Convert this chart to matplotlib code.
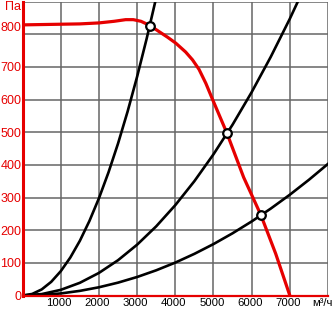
import matplotlib
matplotlib.use("Agg")
import matplotlib.pyplot as plt
import matplotlib.transforms as mtransforms

# Fan curve (red)
fan_q = [0, 1000, 1500, 2000, 2400, 2700, 2900, 3100, 3336, 3580, 3800, 4013, 4270, 4450, 4620, 4800, 4960, 5350, 5790, 6240, 6630, 7000]
fan_p = [829, 831, 832, 835, 840, 845, 845, 840, 827, 808, 791, 773, 746, 722, 693, 650, 605, 498, 362, 247, 128, 0]

# System curves (black)
sys1_q = [0, 250, 500, 750, 1000, 1250, 1500, 1750, 2000, 2250, 2500, 2750, 3000, 3250, 3500]
sys1_p = [0, 4.7, 18.6, 41.9, 74.5, 116.4, 167.6, 228.2, 298, 377.2, 465.6, 563.4, 670.5, 786.9, 912.6]

sys2_q = [0, 500, 1000, 1500, 2000, 2500, 3000, 3500, 4000, 4500, 5000, 5500, 6000, 6500, 7000, 7500]
sys2_p = [0, 4.3, 17.3, 38.9, 69.2, 108.1, 155.7, 211.9, 276.8, 350.3, 432.5, 523.3, 622.8, 730.9, 847.7, 973.1]

sys3_q = [0, 500, 1000, 1500, 2000, 2500, 3000, 3500, 4000, 4500, 5000, 5500, 6000, 6500, 7000, 7500, 8000]
sys3_p = [0, 1.6, 6.3, 14.2, 25.2, 39.4, 56.7, 77.2, 100.8, 127.6, 157.5, 190.6, 226.8, 266.2, 308.7, 354.4, 403.2]

# Operating points
op_q = [3336, 5357, 6242]
op_p = [827, 497, 247]

x_ticks = [1000, 2000, 3000, 4000, 5000, 6000, 7000]
x_labels = ["1000", "2000", "3000", "4000", "5000", "6000", "7000"]
y_ticks = [0, 100, 200, 300, 400, 500, 600, 700, 800, 900]
y_labels = ["0", "100", "200", "300", "400", "500", "600", "700", "800", "Па"]
x_unit = "м³/ч"

plt.rcParams['font.family'] = ['Liberation Sans', 'DejaVu Sans']

W, H = 333, 309
fig = plt.figure(figsize=(W / 100, H / 100), dpi=100)
ax = fig.add_axes([22.6 / W, (H - 295.5) / H, (328 - 22.6) / W, (295.5 - 1.7) / H])

ax.set_xlim(0, 8000)
ax.set_ylim(0, 900)

grid_color = "#666666"
for gx in range(1000, 8001, 1000):
    ax.axvline(gx, color=grid_color, lw=1.1, zorder=1)
for gy in range(100, 901, 100):
    ax.axhline(gy, color=grid_color, lw=1.1, zorder=1)

ax.plot(sys1_q, sys1_p, color="black", lw=1.9, zorder=3)
ax.plot(sys2_q, sys2_p, color="black", lw=1.9, zorder=3)
ax.plot(sys3_q, sys3_p, color="black", lw=1.9, zorder=3)
ax.plot(fan_q, fan_p, color="#e60000", lw=2.3, zorder=4)
ax.plot(op_q, op_p, linestyle="none", marker="o", markersize=6.2,
        markerfacecolor="white", markeredgecolor="black", markeredgewidth=1.6, zorder=5)

for side in ["top", "right"]:
    ax.spines[side].set_visible(False)
ax.spines["left"].set_color("#e60000")
ax.spines["left"].set_linewidth(2.2)
ax.spines["bottom"].set_color("#e60000")
ax.spines["bottom"].set_linewidth(1.6)
ax.spines["left"].set_zorder(6)
ax.spines["bottom"].set_zorder(6)

ax.set_xticks(x_ticks)
ax.set_xticklabels(x_labels, fontsize=8.2, color="black")
ax.set_yticks(y_ticks)
ax.set_yticklabels(y_labels, fontsize=9, color="#e60000")
ax.tick_params(axis="both", length=0)
ax.tick_params(axis="x", pad=2)
ax.tick_params(axis="y", pad=1)

ylabs = ax.get_yticklabels()
# shift "800" label up, "Па" label down
ylabs[8].set_transform(ylabs[8].get_transform() + mtransforms.ScaledTranslation(0, 8 / 100, fig.dpi_scale_trans))
ylabs[9].set_transform(ylabs[9].get_transform() + mtransforms.ScaledTranslation(0, -3.5 / 100, fig.dpi_scale_trans))

for t in ax.get_xticklabels():
    t.set_transform(t.get_transform() + mtransforms.ScaledTranslation(-1.5 / 100, 0, fig.dpi_scale_trans))

fig.text(333 / W, (H - 302.5) / H, x_unit, ha="right", va="center", fontsize=8.2, color="black")

fig.savefig("out.png", dpi=100)
